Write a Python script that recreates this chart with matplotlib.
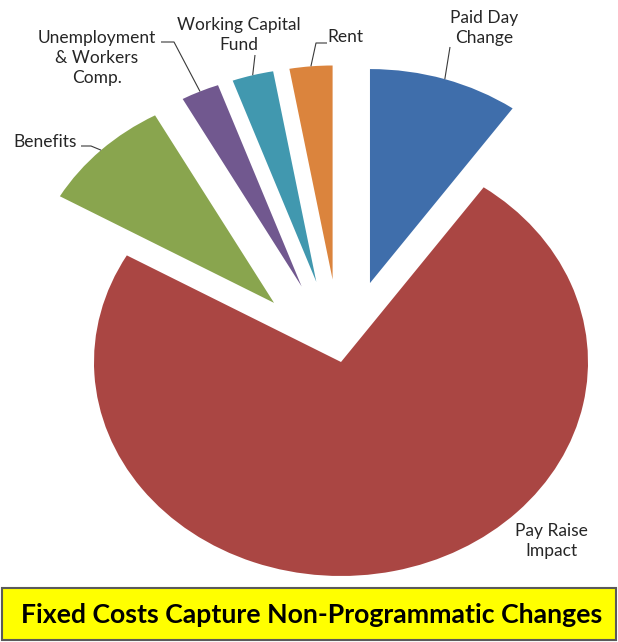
import matplotlib
matplotlib.use("Agg")
import matplotlib.pyplot as plt
import numpy as np
from matplotlib.patches import Rectangle

# ---- data ----
categories = ["Paid Day\nChange", "Pay Raise\nImpact", "Benefits",
              "Unemployment\n& Workers\nComp.", "Working Capital\nFund", "Rent"]
values = [9.8, 73.5, 8.7, 2.5, 2.7, 2.8]
colors = ["#3F6EAB", "#AA4643", "#89A54E", "#71588F", "#4198AF", "#DB843D"]
explode = [0.387, 0.0, 0.387, 0.387, 0.387, 0.387]
title = "Fixed Costs Capture Non-Programmatic Changes"

W, H = 618, 642
CX, CY, RX, RY = 341, 362, 247, 214

fig = plt.figure(figsize=(W / 100, H / 100), dpi=100)
ax = fig.add_axes([0, 0, 1, 1])
wedges, _ = ax.pie(values, colors=colors, explode=explode, startangle=90,
                   counterclock=False, radius=1.0,
                   wedgeprops=dict(linewidth=0))
ax.set_aspect("auto")
ax.set_xlim(-CX / RX, (W - CX) / RX)
ax.set_ylim(-(H - CY) / RY, CY / RY)
ax.axis("off")


def px(x, y):
    return ((x - CX) / RX, (CY - y) / RY)


def anchor(w):
    th = np.deg2rad((w.theta1 + w.theta2) / 2)
    cx, cy = w.center
    return cx + w.r * np.cos(th), cy + w.r * np.sin(th)


FONT = "Lato"
TXT = "#262626"
LINE = "#3a3a3a"

# label positions (pixels) and leader paths (pixel points, ending at wedge)
label_pos = [(484, 28), (551, 541), (45, 142), (97, 58), (239, 35), (345, 37)]
leaders = [
    [(450, 47)],
    None,
    [(81, 146), (91, 146)],
    [(161, 42), (174, 42)],
    [(255, 55)],
    [(327, 43), (316, 43)],
]

for i, (lab, pos) in enumerate(zip(categories, label_pos)):
    ax.text(*px(*pos), lab, ha="center", va="center", fontsize=12.5,
            family=FONT, color=TXT, linespacing=1.3)
    if leaders[i] is not None:
        pts = [px(*p) for p in leaders[i]] + [anchor(wedges[i])]
        xs, ys = zip(*pts)
        ax.plot(xs, ys, color=LINE, lw=0.8, solid_capstyle="butt")

# title box
x0, y0 = px(2, 640)
x1, y1 = px(616, 588)
ax.add_patch(Rectangle((x0, y0), x1 - x0, y1 - y0, facecolor="#FFFF00",
                       edgecolor="#5a5a5a", lw=1.5, clip_on=False))
ax.text(*px(312, 615), title, ha="center", va="center", fontsize=19.2,
        family=FONT, weight="bold", color="black")

fig.savefig("out.png", dpi=100)
